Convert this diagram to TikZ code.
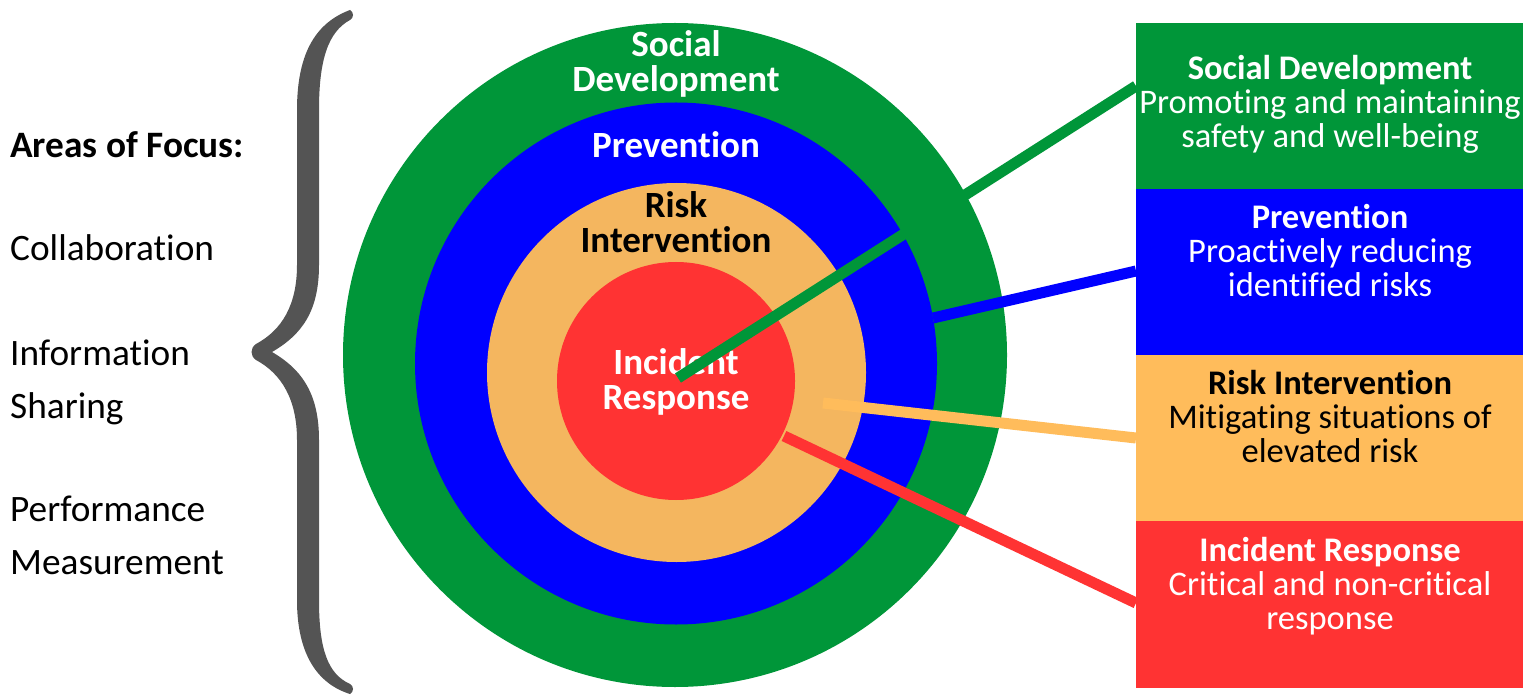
\documentclass[tikz,border=0pt]{standalone}
\usepackage{fontspec}
\setmainfont{Carlito}[RawFeature={-liga;-clig;-dlig}]
\definecolor{cgreen}{RGB}{0,150,57}
\definecolor{cblue}{RGB}{0,0,255}
\definecolor{corange}{RGB}{244,182,95}
\definecolor{cboxorange}{RGB}{255,188,91}
\definecolor{cred}{RGB}{255,51,51}
\definecolor{cgray}{RGB}{84,84,84}
\tikzset{
  ring/.style={circle, inner sep=0pt, draw=none},
  ringlabel/.style={align=center, font=\fontsize{37}{35}\selectfont\bfseries, inner sep=0pt},
  infobox/.style={rectangle, anchor=north west, minimum width=387pt, minimum height=166.5pt, inner sep=0pt, draw=none},
  infotext/.style={align=center, font=\fontsize{34.5}{34}\selectfont, inner sep=0pt},
  lefttext/.style={anchor=west, align=left, font=\fontsize{37.3}{53}\selectfont, inner sep=0pt},
  conn/.style={line width=11pt, line cap=butt},
}
\begin{document}
\begin{tikzpicture}[x=1pt,y=-1pt]
\useasboundingbox (0,0) rectangle (1538,700);
% brace
\fill[cgray] (350,10) .. controls (318,22) and (297,50) .. (297,110) -- (297,265)
  .. controls (297,305) and (282,330) .. (256,344)
  .. controls (250,348) and (250,356) .. (256,360)
  .. controls (282,374) and (297,400) .. (297,440) -- (297,600)
  .. controls (297,655) and (318,684) .. (350,694)
  .. controls (354,692) and (354,686) .. (350,684)
  .. controls (328,674) and (319,650) .. (319,600) -- (319,440)
  .. controls (319,395) and (303,370) .. (272,352)
  .. controls (303,334) and (319,310) .. (319,265) -- (319,110)
  .. controls (319,60) and (328,32) .. (350,20)
  .. controls (354,18) and (354,12) .. (350,10) -- cycle;
% left texts
\node[lefttext, font=\fontsize{37.3}{53}\selectfont\bfseries] (areas) at (10,145) {Areas of Focus:};
\node[lefttext] (collab) at (10,248) {Collaboration};
\node[lefttext] (info) at (10,382) {Information\\Sharing};
\node[lefttext] (perf) at (10,535) {Performance\\Measurement};
% rings
\node[ring, fill=cgreen, minimum size=664pt] (sdring) at (675,355) {};
\node[ring, fill=cblue, minimum size=522pt] (pvring) at (676,363.5) {};
\node[ring, fill=corange, minimum size=379pt] (riring) at (676.5,372.5) {};
\node[ring, fill=cred, minimum size=238pt] (irring) at (676,381) {};
% ring labels
\node[ringlabel, text=white] (sdlab) at (676,64) {Social\\Development};
\node[ringlabel, text=white] (pvlab) at (676,145) {Prevention};
\node[ringlabel, text=black] (rilab) at (676,222.5) {Risk\\Intervention};
\node[ringlabel, text=white] (irlab) at (676,382) {Incident\\Response};
% boxes
\node[infobox, fill=cgreen] (sdbox) at (1136,23) {};
\node[infobox, fill=cblue] (pvbox) at (1136,189) {};
\node[infobox, fill=cboxorange] (ribox) at (1136,355) {};
\node[infobox, fill=cred] (irbox) at (1136,521) {};
\node[infotext, text=white] (sdtext) at (1330,104) {\textbf{Social Development}\\Promoting and maintaining\\safety and well-being};
\node[infotext, text=white] (pvtext) at (1330,251) {\textbf{Prevention}\\Proactively reducing\\identified risks};
\node[infotext, text=black] (ritext) at (1330,417) {\textbf{Risk Intervention}\\Mitigating situations of\\elevated risk};
\node[infotext, text=white] (irtext) at (1330,586) {\textbf{Incident Response}\\Critical and non-critical\\response};
% connectors
\coordinate (gs) at (678,378);
\coordinate (ge) at (sdbox.west |- 0,86);
\coordinate (bs) at (933,318);
\coordinate (be) at (pvbox.west |- 0,271);
\coordinate (os) at (823,403);
\coordinate (oe) at (ribox.west |- 0,438);
\coordinate (rs) at (784,436);
\coordinate (re) at (irbox.west |- 0,603);
\draw[conn, cgreen] (gs) -- (ge);
\draw[conn, cblue] (bs) -- (be);
\draw[conn, cboxorange] (os) -- (oe);
\draw[conn, cred] (rs) -- (re);
\end{tikzpicture}
\end{document}
